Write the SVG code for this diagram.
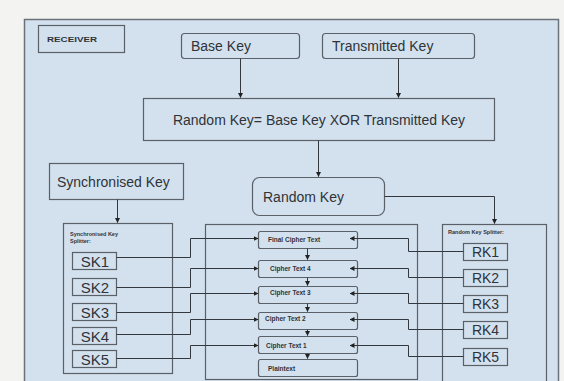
<svg xmlns="http://www.w3.org/2000/svg" width="564" height="381" viewBox="0 0 564 381">
<defs>
<marker id="ah" viewBox="0 0 10 10" refX="9" refY="5" markerWidth="5" markerHeight="5" orient="auto"><path d="M0,0 L10,5 L0,10 z" fill="#222"/></marker>
<style>
.bx{fill:#d3e1ee;stroke:#5a6068;stroke-width:1.2}
.ln{fill:none;stroke:#33383e;stroke-width:1}
.t{font-family:"Liberation Sans",Arial,sans-serif;fill:#2f3338}
.big{font-size:14px}
.md{font-size:14px}
.sk{font-size:15px}
.sm{font-size:6.5px;font-weight:bold}
.xs{font-size:5.5px;font-weight:bold}
</style>
</defs>
<rect x="0" y="0" width="564" height="381" fill="#f3f3f1"/>
<rect x="24.5" y="19.5" width="534" height="370" fill="#d3e1ee" stroke="#6b7178" stroke-width="1.5"/>
<g id="receiver"><rect class="bx" x="38.5" y="25.5" width="86" height="27"/><text class="t" x="47" y="42" font-size="8" font-weight="bold" textLength="50" lengthAdjust="spacingAndGlyphs">RECEIVER</text></g>
<g id="basekey"><rect class="bx" x="181.5" y="33.5" width="118" height="25" rx="3"/><text class="t md" x="191" y="51">Base Key</text></g>
<g id="transkey"><rect class="bx" x="322.5" y="33.5" width="152" height="25" rx="3"/><text class="t md" x="332" y="51">Transmitted  Key</text></g>
<g id="xor"><rect class="bx" x="143.5" y="98.5" width="351" height="42"/><text class="t big" x="319" y="125" text-anchor="middle">Random Key= Base Key XOR Transmitted Key</text></g>
<g id="randomkey"><rect class="bx" x="252.5" y="177.5" width="132" height="38" rx="7"/><text class="t big" x="263" y="202">Random Key</text></g>
<g id="synckey"><rect class="bx" x="49.5" y="163.5" width="134" height="36"/><text class="t big" x="57" y="187">Synchronised Key</text></g>
<g id="sksplitter"><rect class="bx" x="63.5" y="223.5" width="109" height="150"/><text class="t xs" x="70" y="236">Synchronised Key</text><text class="t xs" x="70" y="243">Splitter:</text>
<rect class="bx" x="72.5" y="252.5" width="44" height="17"/><text class="t sk" x="95" y="266.5" text-anchor="middle">SK1</text>
<rect class="bx" x="72.5" y="278.5" width="44" height="17"/><text class="t sk" x="95" y="292.5" text-anchor="middle">SK2</text>
<rect class="bx" x="72.5" y="303.5" width="44" height="17"/><text class="t sk" x="95" y="317.5" text-anchor="middle">SK3</text>
<rect class="bx" x="72.5" y="327.5" width="44" height="17"/><text class="t sk" x="95" y="341.5" text-anchor="middle">SK4</text>
<rect class="bx" x="72.5" y="350.5" width="44" height="17"/><text class="t sk" x="95" y="364.5" text-anchor="middle">SK5</text></g>
<g id="rksplitter"><rect class="bx" x="442.5" y="224.5" width="104" height="160"/><text class="t xs" x="448" y="234">Random Key Splitter:</text>
<rect class="bx" x="463.5" y="243.5" width="44" height="17"/><text class="t md" x="485.5" y="257" text-anchor="middle">RK1</text>
<rect class="bx" x="463.5" y="269.5" width="44" height="17"/><text class="t md" x="485.5" y="283" text-anchor="middle">RK2</text>
<rect class="bx" x="463.5" y="295.5" width="44" height="17"/><text class="t md" x="485.5" y="309" text-anchor="middle">RK3</text>
<rect class="bx" x="463.5" y="321.5" width="44" height="17"/><text class="t md" x="485.5" y="335" text-anchor="middle">RK4</text>
<rect class="bx" x="463.5" y="348.5" width="44" height="17"/><text class="t md" x="485.5" y="362" text-anchor="middle">RK5</text></g>
<g id="cipher"><rect class="bx" x="205.5" y="224.5" width="212" height="155"/>
<rect class="bx" x="258.5" y="231.5" width="99" height="17" rx="2"/><text class="t sm" x="268" y="242">Final Cipher Text</text>
<rect class="bx" x="258.5" y="260.5" width="99" height="17" rx="2"/><text class="t sm" x="270" y="271">Cipher Text 4</text>
<rect class="bx" x="258.5" y="286.5" width="99" height="17" rx="2"/><text class="t sm" x="270" y="295">Cipher Text 3</text>
<rect class="bx" x="258.5" y="312.5" width="99" height="17" rx="2"/><text class="t sm" x="265" y="321">Cipher Text 2</text>
<rect class="bx" x="258.5" y="336.5" width="99" height="17" rx="2"/><text class="t sm" x="266" y="348">Cipher Text 1</text>
<rect class="bx" x="258.5" y="359.5" width="99" height="17" rx="2"/><text class="t sm" x="268" y="371">Plaintext</text></g>
<g id="connectors">
<path class="ln" d="M240.5,58.5 V97.5" marker-end="url(#ah)"/>
<path class="ln" d="M398.5,58.5 V97.5" marker-end="url(#ah)"/>
<path class="ln" d="M318.5,140.5 V176.5" marker-end="url(#ah)"/>
<path class="ln" d="M117.5,199.5 V222.5" marker-end="url(#ah)"/>
<path class="ln" d="M384.5,196.5 H494.5 V223.5" marker-end="url(#ah)"/>
<path class="ln" d="M307.5,248.5 V259.5" marker-end="url(#ah)"/>
<path class="ln" d="M307.5,277.5 V285.5" marker-end="url(#ah)"/>
<path class="ln" d="M307.5,303.5 V311.5" marker-end="url(#ah)"/>
<path class="ln" d="M307.5,329.5 V335.5" marker-end="url(#ah)"/>
<path class="ln" d="M307.5,353.5 V358.5" marker-end="url(#ah)"/>
<path class="ln" d="M116.5,257.5 H190.5 V238.5 H258" marker-end="url(#ah)"/>
<path class="ln" d="M116.5,287.5 H190.5 V268.5 H258" marker-end="url(#ah)"/>
<path class="ln" d="M116.5,312.5 H190.5 V293.5 H258" marker-end="url(#ah)"/>
<path class="ln" d="M116.5,334.5 H190.5 V319.5 H258" marker-end="url(#ah)"/>
<path class="ln" d="M116.5,358.5 H190.5 V345.5 H258" marker-end="url(#ah)"/>
<path class="ln" d="M463.5,251.5 H408.5 V238.5 H350" marker-end="url(#ah)"/>
<path class="ln" d="M463.5,277.5 H408.5 V268.5 H350" marker-end="url(#ah)"/>
<path class="ln" d="M463.5,303.5 H408.5 V293.5 H350" marker-end="url(#ah)"/>
<path class="ln" d="M463.5,329.5 H408.5 V319.5 H350" marker-end="url(#ah)"/>
<path class="ln" d="M463.5,356.5 H408.5 V345.5 H350" marker-end="url(#ah)"/>
</g>
</svg>
